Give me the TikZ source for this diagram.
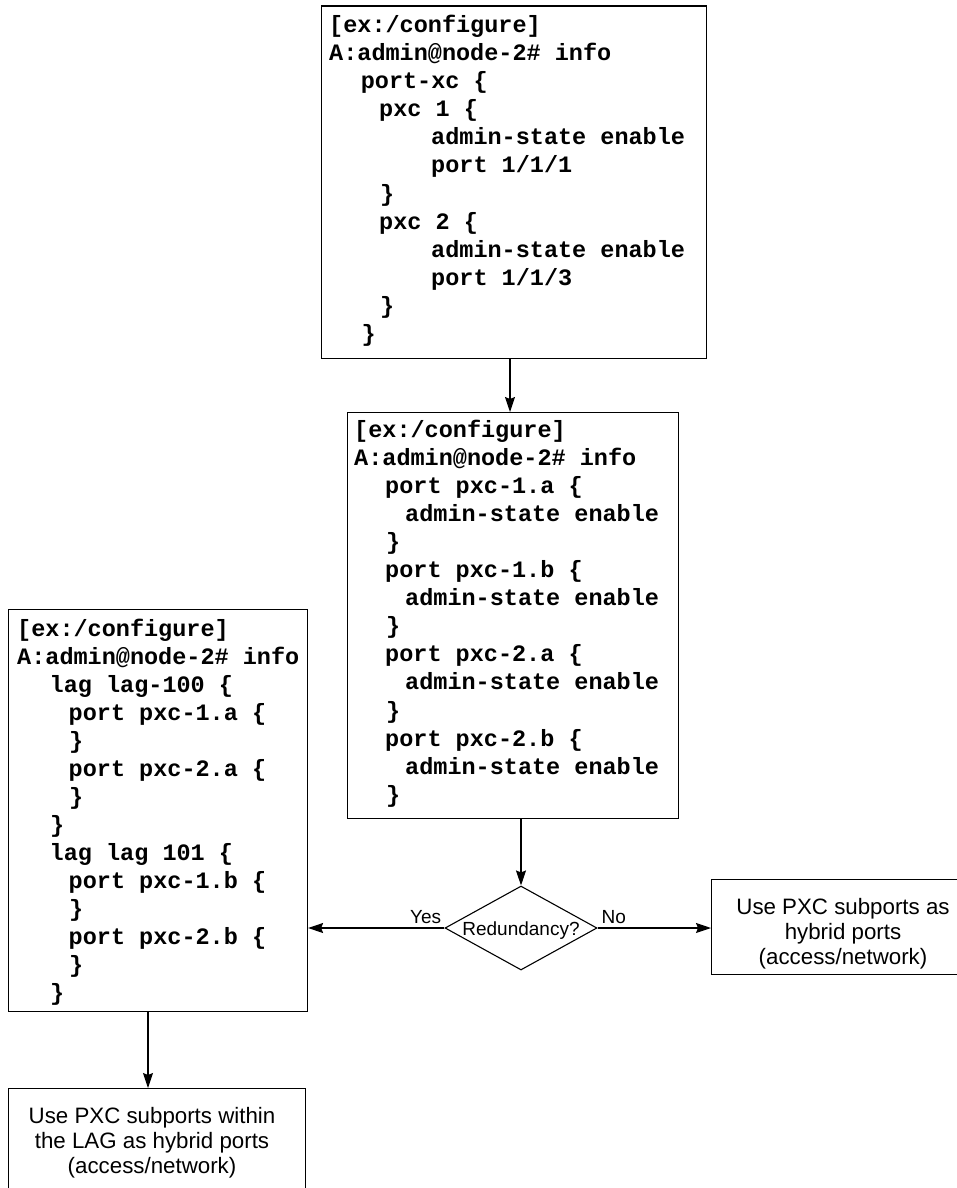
\documentclass[tikz,border=0pt]{standalone}
\usepackage{fontspec}
\usetikzlibrary{shapes.geometric,arrows.meta}
\newfontfamily\cmono{Liberation Mono}
\newfontfamily\csans{Liberation Sans}
\begin{document}
\begin{tikzpicture}[x=1pt,y=-1pt,
  box/.style={draw,line width=1.1pt,rectangle,inner sep=0pt,anchor=north west},
  code/.style={anchor=base west,inner sep=0pt,font=\cmono\bfseries\fontsize{23.5pt}{28pt}\selectfont},
  txt/.style={inner sep=0pt,align=center,font=\csans\fontsize{22.3pt}{24.8pt}\selectfont},
  lbl/.style={inner sep=0pt,font=\csans\fontsize{19pt}{22pt}\selectfont},
  arr/.style={line width=1.1pt,-{Stealth[length=15pt,width=10pt,inset=2pt]}}]
\useasboundingbox (0,0) rectangle (957,1188);
\fill[white] (0,0) rectangle (957,1188);

% boxes
\node[box,minimum width=385pt,minimum height=352pt] (b1) at (321,5.5) {};
\node[box,minimum width=331pt,minimum height=406pt] (b2) at (347,412) {};
\node[box,minimum width=299pt,minimum height=402.5pt] (b3) at (8,608.5) {};
\node[box,minimum width=264pt,minimum height=95pt] (b4) at (711,879) {};
\node[box,minimum width=296.5pt,minimum height=140pt] (b5) at (8,1088) {};
\node[draw,line width=1.1pt,diamond,inner sep=0pt,minimum width=152pt,minimum height=84pt] (d) at (521,928) {};

% box 1 text
\node[code] (a0) at (329,32.7) {[ex:/configure]};
\node[code] (a1) at (329,60.75) {A:admin@node-2\# info};
\node[code] (a2) at (360.6,88.8) {port-xc \{};
\node[code] (a3) at (379,116.85) {pxc 1 \{};
\node[code] (a4) at (431,144.9) {admin-state enable};
\node[code] (a5) at (431,172.95) {port 1/1/1};
\node[code] (a6) at (380,201) {\}};
\node[code] (a7) at (379,229.05) {pxc 2 \{};
\node[code] (a8) at (431,257.1) {admin-state enable};
\node[code] (a9) at (431,285.15) {port 1/1/3};
\node[code] (a10) at (380,313.2) {\}};
\node[code] (a11) at (361.5,341.25) {\}};

% box 2 text
\node[code] (c0) at (354,437.5) {[ex:/configure]};
\node[code] (c1) at (354,465.55) {A:admin@node-2\# info};
\node[code] (c2) at (385,493.6) {port pxc-1.a \{};
\node[code] (c3) at (405,521.65) {admin-state enable};
\node[code] (c4) at (386,549.7) {\}};
\node[code] (c5) at (385,577.75) {port pxc-1.b \{};
\node[code] (c6) at (405,605.8) {admin-state enable};
\node[code] (c7) at (386,633.85) {\}};
\node[code] (c8) at (385,661.9) {port pxc-2.a \{};
\node[code] (c9) at (405,689.95) {admin-state enable};
\node[code] (c10) at (386,718) {\}};
\node[code] (c11) at (385,746.05) {port pxc-2.b \{};
\node[code] (c12) at (405,774.1) {admin-state enable};
\node[code] (c13) at (386,802.15) {\}};

% box 3 text
\node[code] (e0) at (17,636) {[ex:/configure]};
\node[code] (e1) at (17,664.05) {A:admin@node-2\# info};
\node[code] (e2) at (49.5,692.1) {lag lag-100 \{};
\node[code] (e3) at (68.5,720.15) {port pxc-1.a \{};
\node[code] (e4) at (69,748.2) {\}};
\node[code] (e5) at (68.5,776.25) {port pxc-2.a \{};
\node[code] (e6) at (69,804.3) {\}};
\node[code] (e7) at (50,832.35) {\}};
\node[code] (e8) at (49.5,860.4) {lag lag 101 \{};
\node[code] (e9) at (68.5,888.45) {port pxc-1.b \{};
\node[code] (e10) at (69,916.5) {\}};
\node[code] (e11) at (68.5,944.55) {port pxc-2.b \{};
\node[code] (e12) at (69,972.6) {\}};
\node[code] (e13) at (50,1000.65) {\}};

% sans texts
\node[txt] (t4) at (843,934) {Use PXC subports as\\hybrid ports\\(access/network)};
\node[txt] (t5) at (152,1142.5) {Use PXC subports within\\the LAG as hybrid ports\\(access/network)};
\node[lbl,anchor=base] (dt) at (521,935) {Redundancy?};
\node[lbl,anchor=base west] (yes) at (410,923) {Yes};
\node[lbl,anchor=base west] (no) at (601.5,923) {No};

% connectors
\coordinate (x1) at (510,0);
\coordinate (x2) at (148,0);
\draw[arr] (b1.south -| x1) -- (b2.north -| x1);
\draw[arr] (b2.south -| d.north) -- (d.north);
\draw[arr] (d.west) -- (d.west -| b3.east);
\draw[arr] (d.east) -- (d.east -| b4.west);
\draw[arr] (b3.south -| x2) -- (b5.north -| x2);
\end{tikzpicture}
\end{document}
